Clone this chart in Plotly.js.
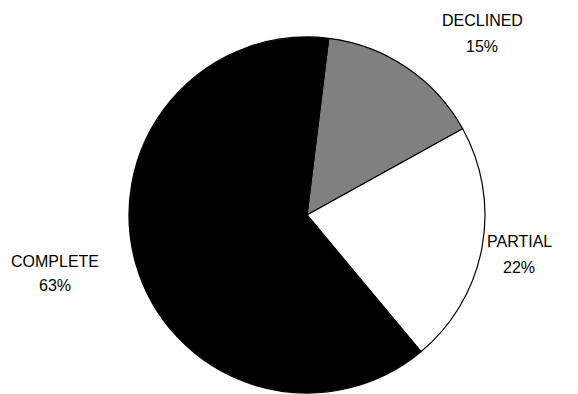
<!DOCTYPE html>
<html>
<head>
<meta charset="utf-8">
<script src="https://cdn.plot.ly/plotly-3.0.1.min.js"></script>
<style>html,body{margin:0;padding:0;background:#fff;}#chart{width:578px;height:394px;}</style>
</head>
<body>
<div id="chart"></div>
<script>
var labels = ["DECLINED", "PARTIAL", "COMPLETE"];
var values = [15, 22, 63];
var colors = ["#808080", "#ffffff", "#000000"];

var W = 578, H = 394;
// label anchor positions in pixels (center of label line, center of percent line)
var labelPos = [
  {x: 482, y1: 20, y2: 46},
  {x: 519, y1: 242, y2: 267},
  {x: 55, y1: 261, y2: 285}
];

var total = values.reduce(function(a,b){return a+b;},0);
var font = {family:'Liberation Sans, Arial, sans-serif', size:16, color:'#000'};
var annotations = [];
labels.forEach(function(l, i){
  var p = labelPos[i];
  annotations.push({text: l, x: p.x/W, y: 1 - p.y1/H, xref:'paper', yref:'paper', showarrow:false, xanchor:'center', yanchor:'middle', font:font});
  annotations.push({text: Math.round(values[i]/total*100) + '%', x: p.x/W, y: 1 - p.y2/H, xref:'paper', yref:'paper', showarrow:false, xanchor:'center', yanchor:'middle', font:font});
});

var data = [{
  type: 'pie',
  labels: labels,
  values: values,
  sort: false,
  direction: 'clockwise',
  rotation: 7,
  marker: {colors: colors, line: {color: '#000', width: 1.2}},
  textinfo: 'none',
  hoverinfo: 'none',
  domain: {x: [129/W, 485/W], y: [1/H, 357/H]}
}];

var layout = {
  width: W, height: H,
  margin: {l:0, r:0, t:0, b:0},
  showlegend: false,
  paper_bgcolor: '#fff',
  annotations: annotations
};

Plotly.newPlot('chart', data, layout, {displayModeBar: false, staticPlot: true});
</script>
</body>
</html>
